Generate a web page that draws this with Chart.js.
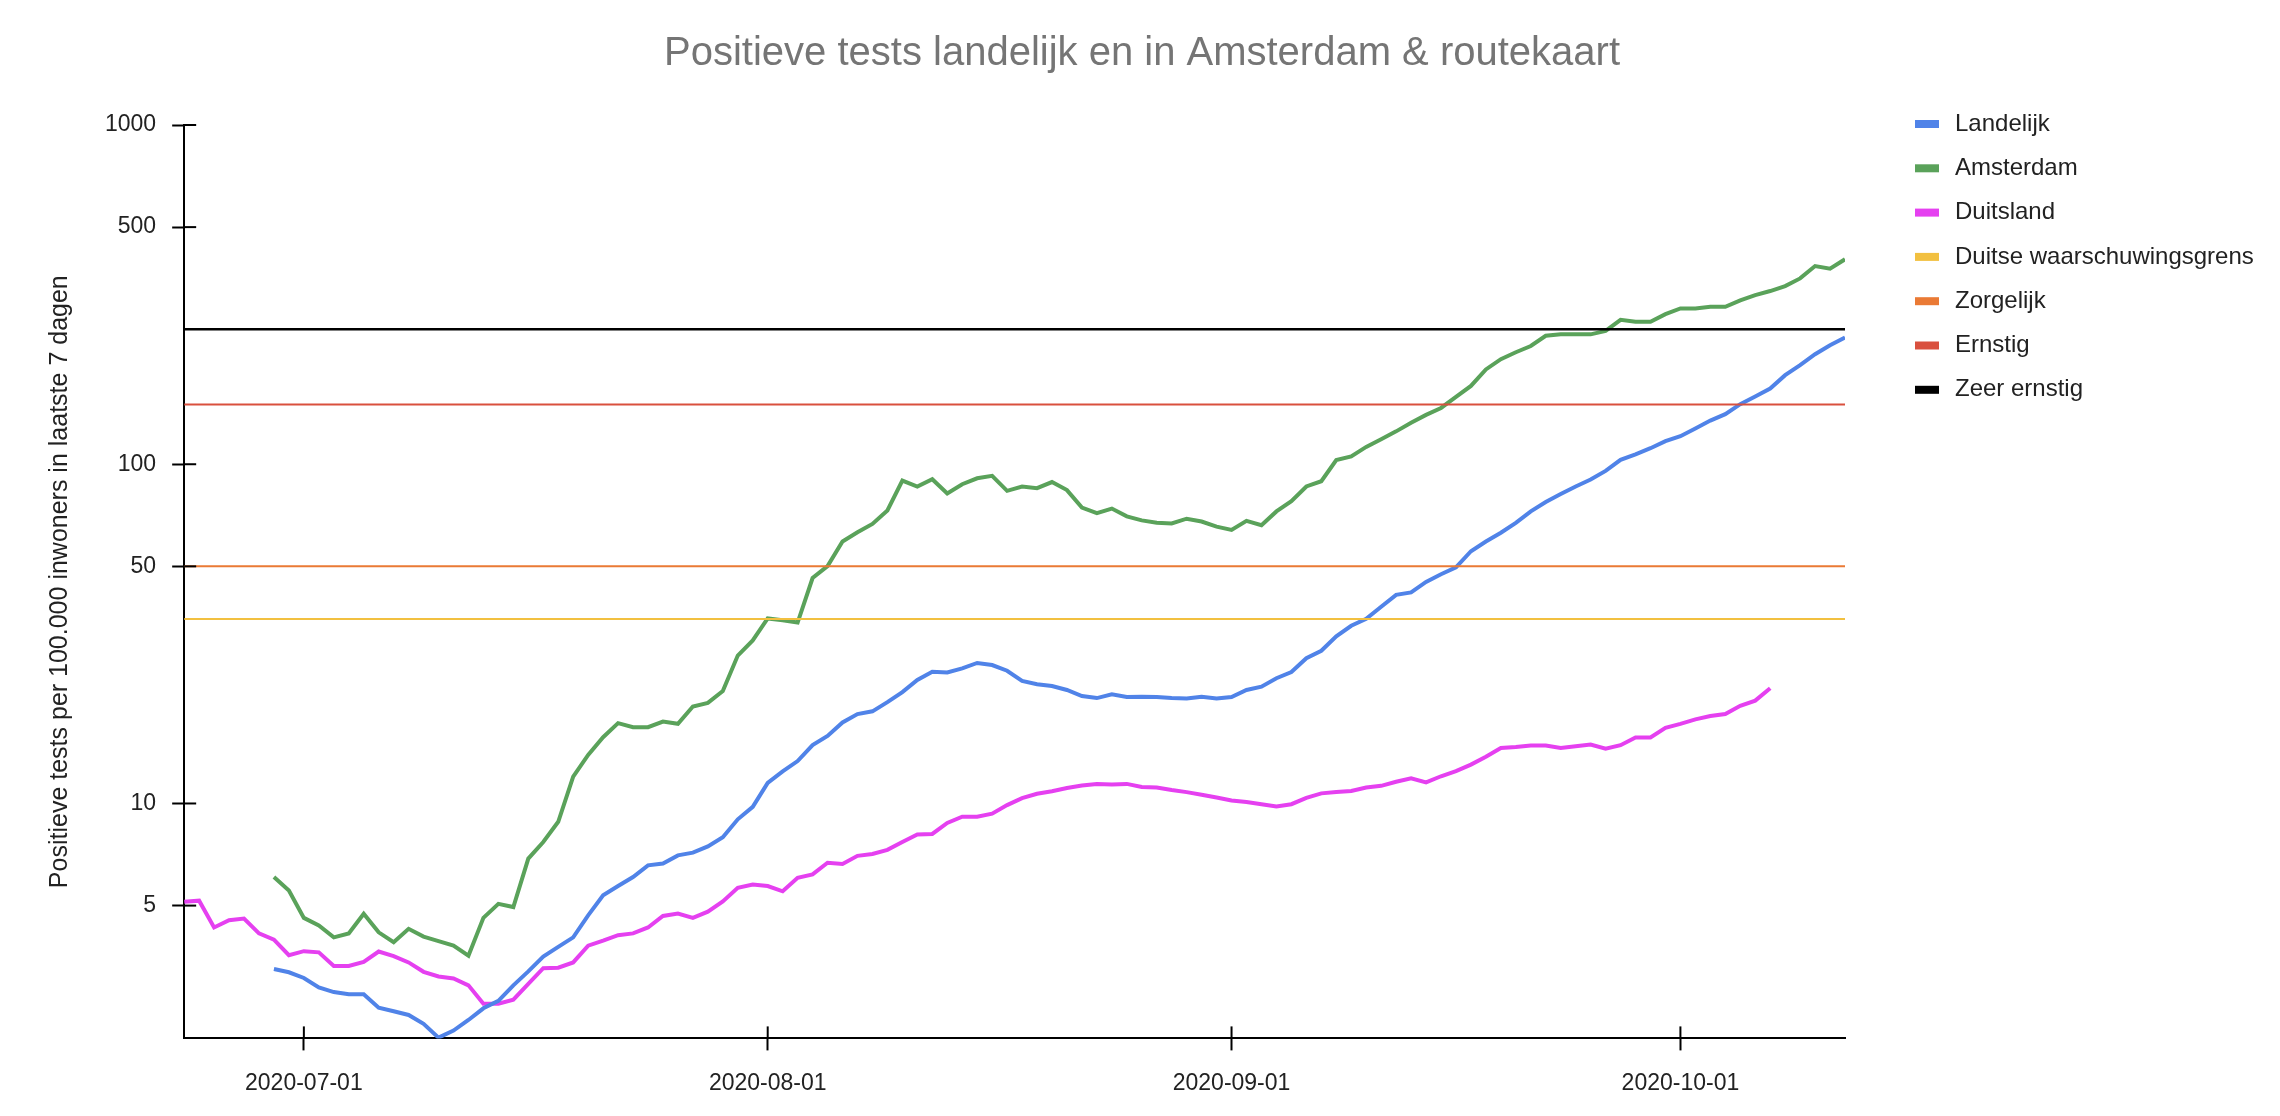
<!DOCTYPE html>
<html>
<head>
<meta charset="utf-8">
<title>Positieve tests landelijk en in Amsterdam &amp; routekaart</title>
<script src="https://cdn.jsdelivr.net/npm/chart.js@4/dist/chart.umd.min.js"></script>
<style>
    html, body { margin: 0; padding: 0; background: #ffffff; }
    #wrap { width: 2280px; height: 1116px; }
</style>
</head>
<body>
<div id="wrap"><canvas id="chart"></canvas></div>
<script>
// Date range of the x axis
var startDate = '2020-06-23';
var endDate = '2020-10-12';

// Positive tests per 100.000 inhabitants, last 7 days (one value per day)
var landelijkStart = '2020-06-29';
var landelijk = [
    3.25, 3.18, 3.06, 2.87, 2.78, 2.74, 2.74, 2.50, 2.44, 2.38,
    2.24, 2.04, 2.14, 2.30, 2.49, 2.62, 2.91, 3.20, 3.54, 3.78,
    4.03, 4.68, 5.36, 5.71, 6.07, 6.57, 6.65, 7.03, 7.16, 7.47,
    7.95, 8.98, 9.77, 11.5, 12.43, 13.34, 14.86, 15.82, 17.33, 18.35,
    18.69, 19.89, 21.3, 23.14, 24.45, 24.33, 25.02, 25.95, 25.59, 24.62,
    22.97, 22.46, 22.2, 21.6, 20.73, 20.45, 20.97, 20.59, 20.62, 20.59,
    20.45, 20.4, 20.62, 20.4, 20.6, 21.6, 22.1, 23.4, 24.4, 26.8,
    28.2, 31.1, 33.4, 35.0, 38.0, 41.2, 41.9, 45.0, 47.4, 49.7,
    55.4, 59.2, 62.8, 67.2, 72.6, 77.4, 81.7, 86.0, 90.1, 95.6,
    103, 107, 111.5, 117, 121, 127.5, 134.5, 140.5, 150.3, 158.4,
    167.2, 183, 195.9, 211, 224.3, 236.4
];

var amsterdamStart = '2020-06-29';
var amsterdam = [
    6.07, 5.54, 4.6, 4.37, 4.03, 4.14, 4.73, 4.17, 3.9, 4.27,
    4.05, 3.93, 3.81, 3.56, 4.6, 5.06, 4.95, 6.88, 7.7, 8.83,
    11.99, 13.91, 15.68, 17.25, 16.79, 16.79, 17.44, 17.17, 19.32, 19.8,
    21.45, 27.3, 30.25, 35.1, 34.7, 34.15, 46.2, 50.1, 59.2, 63.0,
    66.7, 73.1, 89.5, 85.9, 90.3, 82.0, 87.3, 90.9, 92.4, 83.5,
    86.0, 85.0, 88.6, 83.9, 74.5, 71.8, 74.0, 70.2, 68.3, 67.2,
    66.9, 69.1, 67.8, 65.5, 64.0, 68.1, 66.1, 72.6, 77.8, 86.0,
    89.1, 102.9, 105.4, 112.5, 118.5, 125.0, 132.5, 139.8, 146.5, 157.9,
    170.2, 190.3, 204.1, 213.9, 223.1, 239.2, 241.5, 241.5, 241.5, 247.3,
    266.5, 263, 263, 277, 288, 288, 291, 291, 304, 315,
    324, 335, 353, 384, 377, 402
];

var duitslandStart = '2020-06-23';
var duitsland = [
    5.13, 5.17, 4.31, 4.53, 4.58, 4.14, 3.97, 3.57, 3.67, 3.64,
    3.32, 3.32, 3.41, 3.66, 3.55, 3.4, 3.19, 3.09, 3.05, 2.91,
    2.57, 2.57, 2.64, 2.94, 3.27, 3.28, 3.4, 3.81, 3.94, 4.09,
    4.14, 4.31, 4.66, 4.74, 4.6, 4.8, 5.14, 5.64, 5.77, 5.71,
    5.51, 6.04, 6.18, 6.69, 6.63, 7.01, 7.1, 7.3, 7.7, 8.1,
    8.13, 8.76, 9.14, 9.14, 9.33, 9.89, 10.37, 10.68, 10.86, 11.11,
    11.29, 11.42, 11.37, 11.42, 11.18, 11.15, 10.96, 10.8, 10.61, 10.41,
    10.2, 10.1, 9.95, 9.8, 9.95, 10.39, 10.71, 10.81, 10.88, 11.14,
    11.27, 11.59, 11.86, 11.54, 12.03, 12.46, 13.02, 13.74, 14.58, 14.68,
    14.82, 14.82, 14.58, 14.75, 14.92, 14.51, 14.85, 15.64, 15.66, 16.7,
    17.16, 17.7, 18.1, 18.35, 19.4, 20.1, 21.86
];

// Thresholds (routekaart) drawn as flat lines
var grensLabels = ['Duitse waarschuwingsgrens', 'Zorgelijk', 'Ernstig', 'Zeer ernstig'];
var grensWaarden = [35, 50, 150, 250];

// Axis ticks
var yTicks = [5, 10, 50, 100, 500, 1000];
var xTickLabels = ['2020-07-01', '2020-08-01', '2020-09-01', '2020-10-01'];

var serieKleuren = ['#5083e8', '#5aa25a', '#e540f0'];
var grensKleuren = ['#f2c040', '#ea7a35', '#d9503e', '#000000'];

function dayIndex(s) {
    return Math.round((Date.parse(s) - Date.parse(startDate)) / 86400000);
}

function toPoints(start, values) {
    var first = dayIndex(start);
    return values.map(function (v, i) { return { x: first + i, y: v }; });
}

document.addEventListener('DOMContentLoaded', function () {
    var fontFamily = 'Arial, "Liberation Sans", sans-serif';
    Chart.defaults.font.family = fontFamily;
    Chart.defaults.color = '#222222';

    var lastDay = dayIndex(endDate);

    var datasets = [
        { label: 'Landelijk', data: toPoints(landelijkStart, landelijk) },
        { label: 'Amsterdam', data: toPoints(amsterdamStart, amsterdam) },
        { label: 'Duitsland', data: toPoints(duitslandStart, duitsland) }
    ].map(function (ds, i) {
        ds.borderColor = serieKleuren[i];
        ds.backgroundColor = serieKleuren[i];
        ds.borderWidth = 4;
        ds.pointRadius = 0;
        ds.order = 1;
        return ds;
    });

    grensWaarden.forEach(function (v, i) {
        datasets.push({
            label: grensLabels[i],
            data: [{ x: 0, y: v }, { x: lastDay, y: v }],
            borderColor: grensKleuren[i],
            backgroundColor: grensKleuren[i],
            borderWidth: i === 3 ? 2.5 : 2,
            pointRadius: 0,
            order: 0
        });
    });

    // Tick marks that cross the axis lines (inner half)
    var crossTicks = {
        id: 'crossTicks',
        afterDraw: function (chart) {
            var ctx = chart.ctx, area = chart.chartArea;
            ctx.save();
            ctx.strokeStyle = '#000000';
            ctx.lineWidth = 2;
            chart.scales.y.ticks.forEach(function (t) {
                var py = chart.scales.y.getPixelForValue(t.value);
                ctx.beginPath();
                ctx.moveTo(area.left, py);
                ctx.lineTo(area.left + 12, py);
                ctx.stroke();
            });
            chart.scales.x.ticks.forEach(function (t) {
                var px = chart.scales.x.getPixelForValue(t.value);
                ctx.beginPath();
                ctx.moveTo(px, area.bottom);
                ctx.lineTo(px, area.bottom - 12);
                ctx.stroke();
            });
            ctx.restore();
        }
    };

    // Legend on the right side
    var sideLegend = {
        id: 'sideLegend',
        afterDraw: function (chart) {
            var ctx = chart.ctx, area = chart.chartArea;
            ctx.save();
            ctx.font = '24px ' + fontFamily;
            ctx.textBaseline = 'middle';
            chart.data.datasets.forEach(function (ds, i) {
                var y = area.top - 1 + i * 44.3;
                ctx.fillStyle = ds.borderColor;
                ctx.fillRect(area.right + 70, y - 4, 24, 8);
                ctx.fillStyle = '#222222';
                ctx.fillText(ds.label, area.right + 110, y);
            });
            ctx.restore();
        }
    };

    new Chart(document.getElementById('chart'), {
        type: 'line',
        data: { datasets: datasets },
        options: {
            responsive: true,
            maintainAspectRatio: false,
            devicePixelRatio: 1,
            animation: false,
            layout: { padding: { left: 4, right: 0, top: 0, bottom: 0 } },
            plugins: {
                legend: { display: false },
                tooltip: { enabled: false },
                title: {
                    display: true,
                    text: 'Positieve tests landelijk en in Amsterdam & routekaart',
                    color: '#757575',
                    font: { size: 40, weight: 'normal' },
                    padding: { top: 30, bottom: 47 }
                }
            },
            scales: {
                x: {
                    type: 'linear',
                    min: 0,
                    max: lastDay,
                    afterBuildTicks: function (axis) {
                        axis.ticks = xTickLabels.map(function (d) { return { value: dayIndex(d) }; });
                    },
                    ticks: {
                        autoSkip: false,
                        maxRotation: 0,
                        padding: 19,
                        color: '#222222',
                        font: { size: 23 },
                        callback: function (value, index) { return xTickLabels[index]; }
                    },
                    grid: { drawOnChartArea: false, drawTicks: true, tickLength: 12, tickColor: '#000000', tickWidth: 2 },
                    border: { display: true, color: '#000000', width: 2 }
                },
                y: {
                    type: 'logarithmic',
                    min: 2.03,
                    max: 1000,
                    afterBuildTicks: function (axis) {
                        axis.ticks = yTicks.map(function (v) { return { value: v }; });
                    },
                    ticks: {
                        padding: 16,
                        color: '#222222',
                        font: { size: 23 },
                        callback: function (value) { return String(value); }
                    },
                    grid: { drawOnChartArea: false, drawTicks: true, tickLength: 12, tickColor: '#000000', tickWidth: 2 },
                    border: { display: true, color: '#000000', width: 2 },
                    title: {
                        display: true,
                        text: 'Positieve tests per 100.000 inwoners in laatste 7 dagen',
                        color: '#222222',
                        font: { size: 25 },
                        padding: { top: 41, bottom: 14 }
                    }
                },
                // empty right axis that only reserves room for the legend
                ruimte: {
                    type: 'linear',
                    position: 'right',
                    display: true,
                    ticks: { display: false },
                    grid: { display: false },
                    border: { display: false },
                    afterFit: function (axis) { axis.width = 435; }
                }
            }
        },
        plugins: [crossTicks, sideLegend]
    });
});
</script>
</body>
</html>
